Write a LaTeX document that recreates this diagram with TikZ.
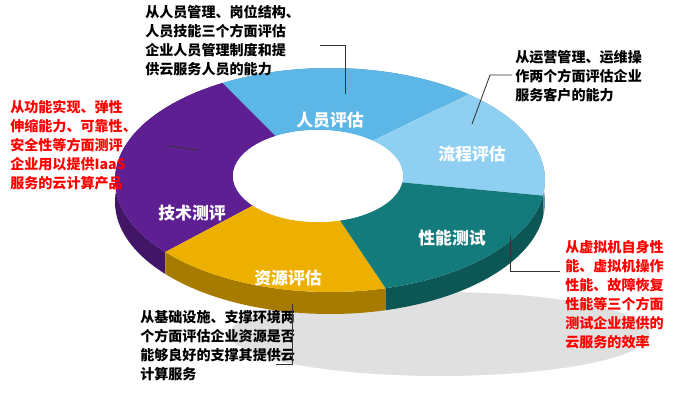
\documentclass[tikz,border=0pt]{standalone}
\usepackage{fontspec}
\setmainfont{Noto Sans CJK SC}
\usetikzlibrary{calc}
\definecolor{purp}{HTML}{5E1F92}
\definecolor{sky}{HTML}{5CB6E6}
\definecolor{pale}{HTML}{8FD0F2}
\definecolor{tealc}{HTML}{137B7B}
\definecolor{gold}{HTML}{EDB000}
\newcommand\ringseg[4]{% start, end, shift, colour
  \fill[#4!70!black,shift={#3}] ($(C)+(#1:215 and 112)+(0,-22)$) arc[start angle=#1,end angle=#2,x radius=215,y radius=112] -- ++(0,22) arc[start angle=#2,end angle=#1,x radius=215,y radius=112] -- cycle;
  \fill[#4,shift={#3}] ($(C)+(#1:215 and 112)$) arc[start angle=#1,end angle=#2,x radius=215,y radius=112] -- ($(Ci)+(#2:85 and 46)$) arc[start angle=#2,end angle=#1,x radius=85,y radius=46] -- cycle;}
\begin{document}
\begin{tikzpicture}[x=0.025cm,y=0.025cm,
  seglabel/.style = {text=white, font=\bfseries\fontsize{12}{14}\selectfont},
  note/.style = {align=left, anchor=north west, font=\bfseries\fontsize{10}{13.5}\selectfont, inner sep=0pt},
  lead/.style = {draw=black!80, line width=0.6pt}]
\useasboundingbox (0,0) rectangle (700,416);
\coordinate (C) at (330,236);
\coordinate (Ci) at (318,240);
% shadow
\fill[black!12] (440,82) ellipse[x radius=210,y radius=42];
% ring
\ringseg{50}{120}{(0,0)}{sky}
\ringseg{120}{220}{(0,0)}{purp}
\ringseg{-8}{50}{(0,0)}{pale}
\ringseg{220}{285}{(0,0)}{gold}
\ringseg{-75}{-8}{(20,-10)}{tealc}
\fill[white] (Ci) ellipse[x radius=85,y radius=46];
% segment labels
\node[seglabel] (ry) at (330,296) {人员评估};
\node[seglabel] (lc) at (472,262) {流程评估};
\node[seglabel] (xn) at (452,178) {性能测试};
\node[seglabel] (zy) at (288,138) {资源评估};
\node[seglabel] (js) at (192,203) {技术测评};
% notes
\node[note] (n1) at (145,411) {从人员管理、岗位结构、\\人员技能三个方面评估\\企业人员管理制度和提\\供云服务人员的能力};
\node[note] (n2) at (515,366) {从运营管理、运维操\\作两个方面评估企业\\服务客户的能力};
\node[note, text=red] (n3) at (10,316) {从功能实现、弹性\\伸缩能力、可靠性、\\安全性等方面测评\\企业用以提供IaaS\\服务的云计算产品};
\node[note] (n4) at (140,106) {从基础设施、支撑环境两\\个方面评估企业资源是否\\能够良好的支撑其提供云\\计算服务};
\node[note, text=red] (n5) at (565,176) {从虚拟机自身性\\能、虚拟机操作\\性能、故障恢复\\性能等三个方面\\测试企业提供的\\云服务的效率};
% leaders
\coordinate (p1) at (345,322);
\coordinate (p2) at (472,292);
\coordinate (p3) at (198,266);
\coordinate (p4) at (292,112);
\coordinate (p5) at (510,145);
\draw[lead] (p1) |- (320,371);
\draw[lead] (p2) -- (490,341) -- (512,341);
\draw[lead] (p3) -- (168,270);
\draw[lead] (p4) -- (292,52) -- (276,52);
\draw[lead] (510,180) |- (p5) -- (560,145);
\end{tikzpicture}
\end{document}
